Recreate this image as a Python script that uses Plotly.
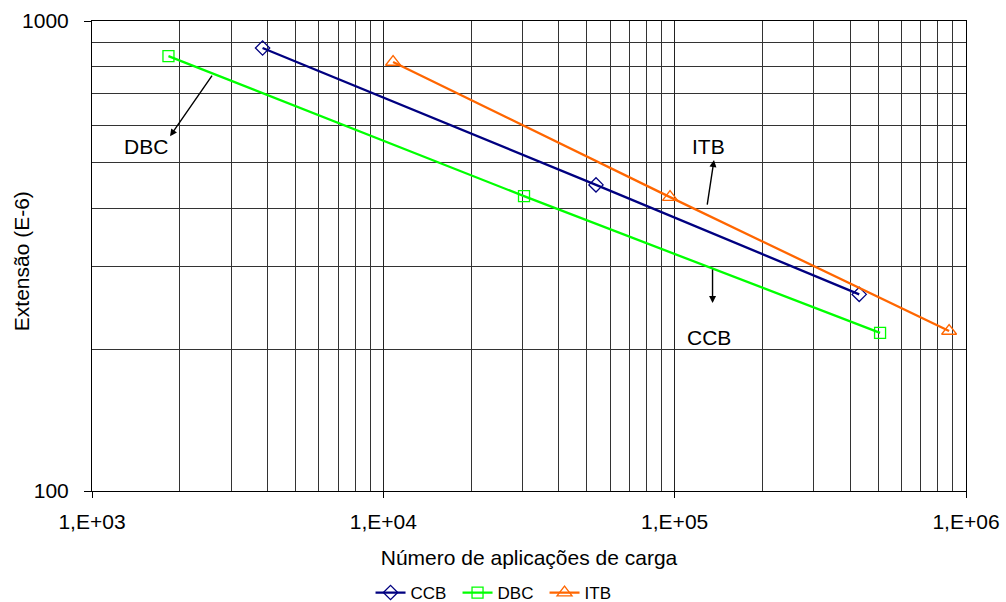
import plotly.graph_objects as go

ccb_x = [3850, 53700, 430000]
ccb_y = [876, 448, 262]
dbc_x = [1830, 30400, 507000]
dbc_y = [842, 424, 217]
itb_x = [10800, 96400, 875000]
itb_y = [818, 422, 219]

x_tickvals = [1e3, 1e4, 1e5, 1e6]
x_ticktext = ["1,E+03", "1,E+04", "1,E+05", "1,E+06"]
y_tickvals = [100, 1000]
y_ticktext = ["100", "1000"]

FONT = "Liberation Sans, Arial, sans-serif"

fig = go.Figure()
series = [
    ("CCB", ccb_x, ccb_y, "#000080", "diamond-open", 11),
    ("DBC", dbc_x, dbc_y, "#00ff00", "square-open", 11),
    ("ITB", itb_x, itb_y, "#ff6600", "triangle-up-open", 13),
]
for name, xs, ys, col, sym, sz in series:
    fig.add_trace(go.Scatter(
        x=xs, y=ys, name=name, mode="lines+markers",
        line=dict(color=col, width=2.3),
        marker=dict(symbol=sym, size=sz, color=col, line=dict(color=col, width=1.3)),
        hoverinfo="skip",
    ))

fig.update_layout(
    width=1006, height=602,
    margin=dict(l=92, r=40, t=21, b=111, autoexpand=False),
    paper_bgcolor="white", plot_bgcolor="white",
    font=dict(family=FONT, size=21, color="black"),
    showlegend=True,
    legend=dict(orientation="h", x=0.468, xanchor="center", y=-0.217, yanchor="middle",
                font=dict(size=17), tracegroupgap=0, entrywidth=42, entrywidthmode="pixels"),
    xaxis=dict(type="log", range=[3, 6], tickvals=x_tickvals, ticktext=x_ticktext,
               ticks="outside", ticklen=6, tickcolor="black", tickfont=dict(size=21),
               ticklabelstandoff=6,
               showline=True, linecolor="black", linewidth=1, mirror=True,
               title=dict(text="Número de aplicações de carga", font=dict(size=21), standoff=18),
               showgrid=True, gridcolor="#222222",
               minor=dict(showgrid=True, gridcolor="#333333", gridwidth=1, dtick="D1"),
               zeroline=False, automargin=False),
    yaxis=dict(type="log", range=[2, 3], tickvals=y_tickvals, ticktext=y_ticktext,
               ticks="outside", ticklen=7, tickcolor="black", tickfont=dict(size=21),
               ticklabelstandoff=11,
               showline=True, linecolor="black", linewidth=1, mirror=True,
               showgrid=True, gridcolor="#777777",
               minor=dict(showgrid=True, gridcolor="#333333", gridwidth=1, dtick="D1"),
               zeroline=False, automargin=False),
)

fig.add_annotation(x=-0.0812, y=0.489, xref="paper", yref="paper", text="Extensão (E-6)",
                   textangle=-90, showarrow=False, font=dict(size=21, color="black"),
                   xanchor="center", yanchor="middle")

# arrows
arrows = [
    (3.268, 2.755, 43, -62),
    (5.135, 2.704, -7, 46),
    (5.130, 2.400, 0, -35),
]
for x, y, ax, ay in arrows:
    fig.add_annotation(x=x, y=y, xref="x", yref="y", ax=ax, ay=ay, axref="pixel", ayref="pixel",
                       text="", showarrow=True, arrowhead=2, arrowsize=1, arrowwidth=1.4,
                       arrowcolor="black", standoff=0, startstandoff=0)

labels = [("DBC", 3.185, 2.734), ("ITB", 5.115, 2.734), ("CCB", 5.118, 2.326)]
for t, x, y in labels:
    fig.add_annotation(x=x, y=y, xref="x", yref="y", text=t, showarrow=False,
                       font=dict(size=21, color="black"))

fig.write_html("out.html")
